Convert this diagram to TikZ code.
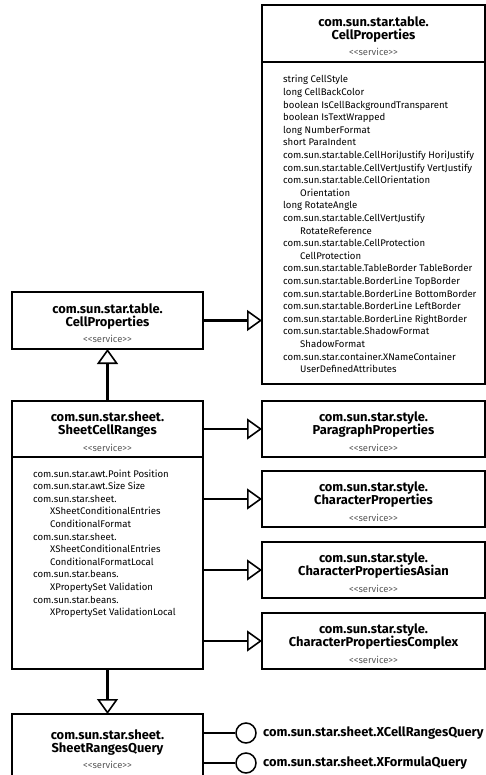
\documentclass[tikz,border=0pt]{standalone}
\usepackage{fontspec}
\setmainfont{Fira Sans}
\usetikzlibrary{arrows.meta}
\definecolor{stereo}{HTML}{5A5A5A}
\newcommand{\titlefont}{\fontsize{12.9}{13.4}\selectfont\bfseries}
\newcommand{\servfont}{\fontsize{9.4}{10}\selectfont\mdseries\color{stereo}}
\newcommand{\bodyfont}{\fontsize{9.6}{12.6}\selectfont}
\newcommand{\hdr}[3]{\begin{minipage}{#3}\centering\vspace*{5pt}\titlefont #1\\#2\par\vspace{5pt}\servfont <{}<service>{}>\end{minipage}}
\newcommand{\ind}{\hspace*{17pt}}
\tikzset{
  box/.style={draw, line width=1.3pt, rectangle, anchor=north west, inner sep=0pt, outer sep=0pt},
  narrow/.style={box, minimum width=191pt},
  wide/.style={box, minimum width=223pt},
  hd/.style={minimum height=56pt},
  bodytext/.style={anchor=base west, inner sep=0pt, font=\bodyfont},
  gen/.style={line width=2.2pt, -{Triangle[open, length=15pt, width=21pt, line width=1.6pt]}},
  stick/.style={line width=2.2pt},
  lolli/.style={draw, circle, line width=1.5pt, minimum size=20pt, inner sep=0pt},
  ifacetext/.style={anchor=west, inner sep=0pt, font=\titlefont}
}
\begin{document}
\begin{tikzpicture}[x=1pt,y=-1pt]
\fill[white] (0,0) rectangle (486,775);
\useasboundingbox (0,0) rectangle (486,775);

% top right CellProperties
\node[wide, minimum height=57pt] (cpRh) at (262,5) {\hdr{com.sun.star.table.}{CellProperties}{215pt}};
\node[wide, minimum height=322pt] (cpRb) at (262,62) {};
\node[bodytext] (cpRt) at (283,83) {\begin{minipage}[t]{200pt}\raggedright
string CellStyle\\
long CellBackColor\\
boolean IsCellBackgroundTransparent\\
boolean IsTextWrapped\\
long NumberFormat\\
short ParaIndent\\
com.sun.star.table.CellHoriJustify HoriJustify\\
com.sun.star.table.CellVertJustify VertJustify\\
com.sun.star.table.CellOrientation\\
\ind Orientation\\
long RotateAngle\\
com.sun.star.table.CellVertJustify\\
\ind RotateReference\\
com.sun.star.table.CellProtection\\
\ind CellProtection\\
com.sun.star.table.TableBorder TableBorder\\
com.sun.star.table.BorderLine TopBorder\\
com.sun.star.table.BorderLine BottomBorder\\
com.sun.star.table.BorderLine LeftBorder\\
com.sun.star.table.BorderLine RightBorder\\
com.sun.star.table.ShadowFormat\\
\ind ShadowFormat\\
com.sun.star.container.XNameContainer\\
\ind UserDefinedAttributes\end{minipage}};

% left CellProperties
\node[narrow, minimum height=57pt] (cpL) at (12,292) {\hdr{com.sun.star.table.}{CellProperties}{185pt}};

% SheetCellRanges
\node[narrow, hd] (scrh) at (12,401) {\hdr{com.sun.star.sheet.}{SheetCellRanges}{185pt}};
\node[narrow, minimum height=212pt] (scrb) at (12,457) {};
\node[bodytext] (scrt) at (33,477) {\begin{minipage}[t]{170pt}\raggedright
com.sun.star.awt.Point Position\\
com.sun.star.awt.Size Size\\
com.sun.star.sheet.\\
\ind XSheetConditionalEntries\\
\ind ConditionalFormat\\
com.sun.star.sheet.\\
\ind XSheetConditionalEntries\\
\ind ConditionalFormatLocal\\
com.sun.star.beans.\\
\ind XPropertySet Validation\\
com.sun.star.beans.\\
\ind XPropertySet ValidationLocal\end{minipage}};

% right style services
\node[wide, hd] (pp) at (262,401) {\hdr{com.sun.star.style.}{ParagraphProperties}{215pt}};
\node[wide, hd] (chp) at (262,471) {\hdr{com.sun.star.style.}{CharacterProperties}{215pt}};
\node[wide, hd] (cpa) at (262,542) {\hdr{com.sun.star.style.}{CharacterPropertiesAsian}{215pt}};
\node[wide, hd] (cpc) at (262,613) {\hdr{com.sun.star.style.}{CharacterPropertiesComplex}{215pt}};

% SheetRangesQuery
\node[narrow, minimum height=65pt] (srq) at (12,714) {\hdr{com.sun.star.sheet.}{SheetRangesQuery}{185pt}};

% generalizations
\draw[gen] (cpL.east) -- (cpL.east -| cpRb.west);
\draw[gen] (scrh.north) -- (cpL.south);
\draw[gen] (pp.west -| scrh.east) -- (pp.west);
\draw[gen] (chp.west -| scrb.east) -- (chp.west);
\draw[gen] (cpa.west -| scrb.east) -- (cpa.west);
\draw[gen] (cpc.west -| scrb.east) -- (cpc.west);
\draw[gen] (scrb.south) -- (srq.north);

% interfaces
\node[lolli] (i1) at (246,733) {};
\node[lolli] (i2) at (246,763) {};
\draw[stick] (i1.west -| srq.east) -- (i1.west);
\draw[stick] (i2.west -| srq.east) -- (i2.west);
\node[ifacetext] (i1t) at (263,733) {com.sun.star.sheet.XCellRangesQuery};
\node[ifacetext] (i2t) at (263,763) {com.sun.star.sheet.XFormulaQuery};
\end{tikzpicture}
\end{document}
